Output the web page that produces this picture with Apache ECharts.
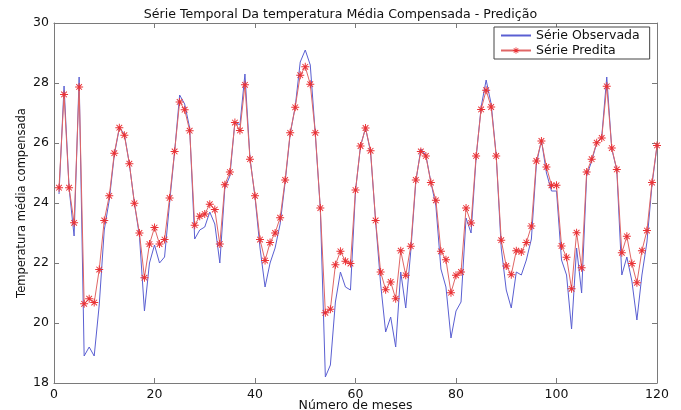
<!DOCTYPE html>
<html>
<head>
<meta charset="utf-8">
<script src="https://cdn.jsdelivr.net/npm/echarts@6/dist/echarts.min.js"></script>
<style>
html,body{margin:0;padding:0;background:#fff;}
#chart{width:681px;height:410px;}
</style>
</head>
<body>
<div id="chart"></div>
<script>
var titleText = 'Série Temporal Da temperatura Média Compensada - Predição';
var xName = 'Número de meses';
var yName = 'Temperatura média compensada';
var seriesNames = ['Série Observada', 'Série Predita'];

var observed = [
  24.3, 27.9, 24.5, 22.9, 28.2, 18.9, 19.2, 18.9, 20.6, 23.1,
  24.1, 25.6, 26.5, 26.3, 25.3, 24.0, 22.9, 20.4, 22.0, 22.6,
  22.0, 22.2, 24.0, 25.7, 27.6, 27.3, 26.5, 22.8, 23.1, 23.2,
  23.7, 23.3, 22.0, 24.5, 24.9, 26.7, 26.6, 28.3, 25.5, 24.2,
  22.5, 21.2, 22.0, 22.5, 23.3, 24.7, 26.3, 27.2, 28.7, 29.1,
  28.6, 26.3, 23.8, 18.2, 18.6, 20.7, 21.7, 21.2, 21.1, 24.4,
  25.9, 26.5, 25.7, 23.4, 21.3, 19.7, 20.2, 19.2, 21.7, 20.5,
  22.4, 24.7, 25.8, 25.6, 24.7, 23.9, 21.8, 21.2, 19.5, 20.4,
  20.7, 23.5, 23.0, 25.5, 27.2, 28.1, 27.3, 25.6, 22.5, 21.1,
  20.5, 21.7, 21.6, 22.1, 22.8, 25.3, 26.1, 25.0, 24.4, 24.4,
  22.1, 21.6, 19.8, 22.5, 21.0, 24.9, 25.4, 26.0, 26.2, 28.2,
  25.8, 25.1, 21.6, 22.2, 21.4, 20.1, 21.6, 22.7, 24.6, 25.9
];

var predicted = [
  24.51, 27.62, 24.51, 23.34, 27.87, 20.64, 20.81, 20.68, 21.78, 23.42,
  24.24, 25.66, 26.51, 26.26, 25.31, 23.99, 23.00, 21.51, 22.63, 23.18,
  22.63, 22.78, 24.17, 25.72, 27.37, 27.11, 26.41, 23.26, 23.56, 23.63,
  23.96, 23.78, 22.63, 24.61, 25.03, 26.68, 26.42, 27.94, 25.46, 24.24,
  22.78, 22.08, 22.68, 23.00, 23.51, 24.77, 26.34, 27.19, 28.26, 28.54,
  27.96, 26.34, 23.83, 20.34, 20.46, 21.94, 22.39, 22.06, 21.98, 24.43,
  25.90, 26.50, 25.74, 23.42, 21.70, 21.11, 21.37, 20.81, 22.41, 21.59,
  22.56, 24.77, 25.72, 25.57, 24.68, 24.09, 22.39, 22.11, 21.01, 21.59,
  21.70, 23.83, 23.33, 25.57, 27.12, 27.76, 27.20, 25.57, 22.76, 21.90,
  21.61, 22.41, 22.37, 22.68, 23.23, 25.40, 26.07, 25.20, 24.59, 24.59,
  22.57, 22.19, 21.14, 23.01, 21.84, 25.03, 25.46, 26.01, 26.17, 27.89,
  25.83, 25.12, 22.34, 22.89, 21.98, 21.34, 22.41, 23.08, 24.68, 25.92
];

var xTicks = [0, 20, 40, 60, 80, 100, 120];
var yTicks = [18, 20, 22, 24, 26, 28, 30];

var obsPairs = observed.map(function (v, i) { return [i + 1, v]; });
var predPairs = predicted.map(function (v, i) { return [i + 1, v]; });

var asterisk = 'path://M-1.2,-10 L1.2,-10 L1.2,10 L-1.2,10 Z ' +
  'M-10,-1.2 L10,-1.2 L10,1.2 L-10,1.2 Z ' +
  'M-6.22,-7.92 L7.92,6.22 L6.22,7.92 L-7.92,-6.22 Z ' +
  'M-7.92,6.22 L6.22,-7.92 L7.92,-6.22 L-6.22,7.92 Z';

var FONT = 'DejaVu Sans';
var axisGray = '#7a7a7a';

function xAx(pos, showLabel) {
  return {
    type: 'value', position: pos,
    min: xTicks[0], max: xTicks[xTicks.length - 1], interval: xTicks[1] - xTicks[0],
    axisLine: { show: true, onZero: false, lineStyle: { color: axisGray, width: 1 } },
    axisTick: { show: true, inside: true, length: 5, lineStyle: { color: axisGray } },
    axisLabel: { show: showLabel, color: '#111', fontSize: 12.5, fontFamily: FONT, margin: 5 },
    splitLine: { show: false },
    name: showLabel ? xName : '', nameLocation: 'middle', nameGap: 16,
    nameMoveOverlap: false,
    nameTextStyle: { color: '#111', fontSize: 12.5, fontFamily: FONT }
  };
}
function yAx(pos, showLabel) {
  return {
    type: 'value', position: pos,
    min: yTicks[0], max: yTicks[yTicks.length - 1], interval: yTicks[1] - yTicks[0],
    axisLine: { show: true, onZero: false, lineStyle: { color: axisGray, width: 1 } },
    axisTick: { show: true, inside: true, length: 5, lineStyle: { color: axisGray } },
    axisLabel: { show: showLabel, color: '#111', fontSize: 12.5, fontFamily: FONT, margin: 5 },
    splitLine: { show: false },
    name: showLabel ? yName : '', nameLocation: 'middle', nameGap: 26,
    nameMoveOverlap: false,
    nameTextStyle: { color: '#111', fontSize: 11.5, fontFamily: FONT }
  };
}

var chart = echarts.init(document.getElementById('chart'), null, { renderer: 'canvas' });
chart.setOption({
  animation: false,
  backgroundColor: '#fff',
  title: {
    text: titleText, left: 'center', top: 3,
    textStyle: { color: '#111', fontSize: 12.6, fontWeight: 'normal', fontFamily: FONT }
  },
  grid: { left: 54, right: 24, top: 23, bottom: 27, show: false, containLabel: false, outerBoundsMode: 'none' },
  legend: {
    orient: 'vertical', left: 494, top: 27,
    data: [
      { name: seriesNames[0], itemStyle: { opacity: 0 } },
      { name: seriesNames[1] }
    ],
    itemWidth: 30, itemHeight: 8, itemGap: 2,
    padding: [2, 10, 2, 6],
    borderColor: '#444', borderWidth: 1, backgroundColor: '#fff',
    textStyle: { color: '#111', fontSize: 12.5, fontFamily: FONT }
  },
  xAxis: [xAx('bottom', true), xAx('top', false)],
  yAxis: [yAx('left', true), yAx('right', false)],
  series: [
    {
      name: seriesNames[0], type: 'line', xAxisIndex: 0, yAxisIndex: 0,
      data: obsPairs, symbol: 'none', showSymbol: false,
      lineStyle: { color: '#5a5fd2', width: 1 },
      itemStyle: { color: '#5a5fd2' }
    },
    {
      name: seriesNames[1], type: 'line', xAxisIndex: 0, yAxisIndex: 0,
      data: predPairs, symbol: asterisk, symbolSize: 8, showSymbol: true,
      lineStyle: { color: '#e06666', width: 1 },
      itemStyle: { color: '#ea3236' }
    }
  ]
});
</script>
</body>
</html>
